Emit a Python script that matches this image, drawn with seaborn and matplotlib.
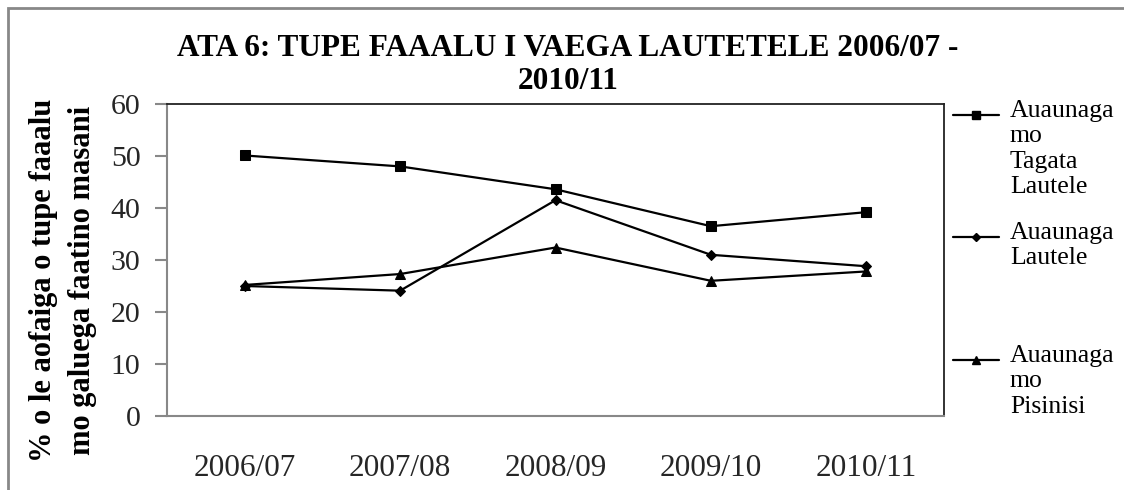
import matplotlib
matplotlib.use("Agg")
import matplotlib.pyplot as plt
import seaborn as sns
import pandas as pd
from matplotlib.lines import Line2D
from matplotlib.patches import Rectangle

years = ['2006/07', '2007/08', '2008/09', '2009/10', '2010/11']
tagata = [50.1, 48.0, 43.6, 36.5, 39.2]
lautele = [25.0, 24.1, 41.5, 31.0, 28.8]
pisinisi = [25.2, 27.3, 32.4, 26.0, 27.8]
series_names = ['Auaunaga mo Tagata Lautele', 'Auaunaga Lautele', 'Auaunaga mo Pisinisi']
legend_labels = ['Auaunaga\nmo\nTagata\nLautele', 'Auaunaga\nLautele', 'Auaunaga\nmo\nPisinisi']
yticks = [0, 10, 20, 30, 40, 50, 60]
title = 'ATA 6: TUPE FAAALU I VAEGA LAUTETELE 2006/07 -\n2010/11'
ylabel = '% o le aofaiga o tupe faaalu\nmo galuega faatino masani'

sns.set_theme(style='white')
plt.rcParams['font.family'] = ['Liberation Serif', 'DejaVu Serif']

df = pd.DataFrame({
    'year': years * 3,
    'value': tagata + lautele + pisinisi,
    'series': [series_names[0]] * 5 + [series_names[1]] * 5 + [series_names[2]] * 5,
})

W, H = 1124, 490
fig = plt.figure(figsize=(W / 100, H / 100), dpi=100)
ax = fig.add_axes([167/W, 1 - 416/H, (944-167)/W, (416-104)/H])

markers = {series_names[0]: 's', series_names[1]: 'D', series_names[2]: '^'}
sizes = {series_names[0]: 7.5, series_names[1]: 5.5, series_names[2]: 7}
for name in series_names:
    sub = df[df['series'] == name]
    sns.lineplot(data=sub, x='year', y='value', ax=ax, color='black', linewidth=1.6,
                 marker=markers[name], markersize=sizes[name], markeredgecolor='black',
                 markerfacecolor='black', sort=False, legend=False)

ax.set_xlim(-0.5, 4.5)
ax.set_ylim(0, 60)
ax.set_yticks(yticks)
ax.set_yticklabels([str(v) for v in yticks], fontsize=21.5)
ax.set_xticks(range(len(years)))
ax.set_xticklabels(years, fontsize=22.5)
ax.set_xticks([i - 0.5 for i in range(len(years) + 1)], minor=True)
ax.tick_params(axis='x', which='major', length=0, pad=27)
ax.tick_params(axis='x', which='minor', length=8, width=1.5, color='#888888', direction='out')
ax.tick_params(axis='y', which='major', length=9, width=1.5, color='#888888', direction='out', pad=10, left=True)
ax.set_xlabel('')
ax.set_ylabel('')
for side in ['left', 'bottom']:
    ax.spines[side].set_color('#888888')
    ax.spines[side].set_linewidth(1.5)
for side in ['top', 'right']:
    ax.spines[side].set_color('#222222')
    ax.spines[side].set_linewidth(1.3)

fig.text(568/W, 1 - 65/H, title, ha='center', va='center', fontsize=22.5,
         fontweight='bold', linespacing=1.22, color='black')
fig.text(63/W, 1 - 280/H, ylabel, ha='center', va='center', rotation=90,
         fontsize=22, fontweight='bold', linespacing=1.42, color='black')

# legend drawn as key blocks, one per series
line_y = [115, 237, 360]
for lab, name, ly in zip(legend_labels, series_names, line_y):
    y = 1 - ly / H
    fig.add_artist(Line2D([953/W, 999/W], [y, y], transform=fig.transFigure,
                          color='black', linewidth=1.6))
    fig.add_artist(Line2D([976/W], [y], transform=fig.transFigure, color='black',
                          marker=markers[name], markersize=sizes[name] * 0.8,
                          markerfacecolor='black', markeredgecolor='black', linestyle='none'))
    fig.text(1010/W, 1 - (ly - 15)/H, lab, ha='left', va='top', fontsize=18.5,
             linespacing=1.2, color='black')

fig.patches.append(Rectangle((8/W, -0.1), 1.2, 1 - 8/H + 0.1, transform=fig.transFigure,
                             fill=False, edgecolor='#888888', linewidth=2))

fig.savefig('out.png', dpi=100)
